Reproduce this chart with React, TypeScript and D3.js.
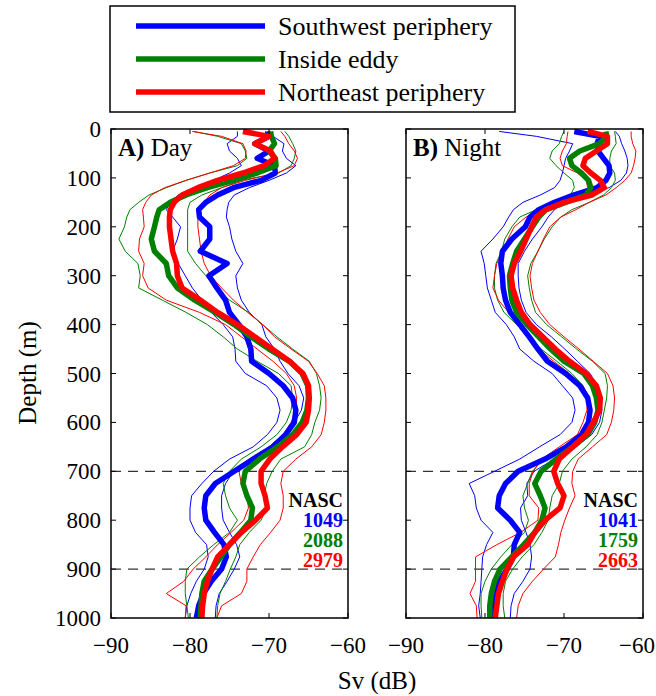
import React from "react";
import * as d3 from "d3";

const DEPTH = [5,15,30,45,60,75,90,105,120,135,150,165,180,200,225,250,275,300,325,350,375,400,425,450,475,500,525,550,575,600,625,650,675,700,725,750,775,800,825,850,875,900,925,950,975,1000];

// Panel A (Day)
const A_sw = [-70.2,-70.0,-71.8,-70.0,-71.5,-69.3,-69.2,-71.0,-74.5,-76.5,-78.0,-78.9,-78.8,-77.5,-77.5,-78.7,-75.3,-77.6,-76.6,-75.5,-75.0,-73.8,-72.8,-72.3,-72.2,-70.0,-68.2,-67.0,-66.6,-66.8,-67.9,-69.5,-72.0,-74.4,-76.8,-78.0,-78.2,-78.0,-76.9,-75.7,-75.4,-76.0,-77.3,-78.3,-78.9,-79.2];
const A_sw_lo = [-74.0,-74.0,-75.3,-75.0,-74.0,-73.5,-75.0,-77.0,-79.5,-81.5,-82.5,-83.0,-82.2,-81.2,-81.6,-82.2,-81.5,-80.6,-79.7,-78.5,-77.3,-75.8,-74.6,-74.3,-74.2,-73.0,-70.3,-69.0,-68.6,-69.0,-70.2,-72.0,-75.0,-77.0,-78.5,-79.8,-80.0,-80.0,-79.3,-77.9,-77.7,-78.2,-79.2,-79.9,-80.4,-80.6];
const A_sw_hi = [-70.5,-69.5,-68.1,-68.3,-67.8,-66.6,-67.8,-70.0,-72.5,-74.4,-75.1,-75.3,-75.4,-75.0,-74.7,-74.2,-73.3,-74.2,-74.0,-73.5,-72.5,-70.9,-70.4,-69.3,-68.6,-67.6,-66.2,-65.6,-65.9,-66.8,-68.2,-70.0,-72.1,-74.5,-75.5,-76.0,-76.0,-75.8,-75.0,-74.1,-73.7,-74.4,-75.3,-76.3,-76.7,-76.8];
const A_in = [-69.8,-69.7,-69.3,-70.0,-69.2,-69.1,-71.5,-74.5,-77.8,-80.5,-82.5,-83.9,-84.2,-84.5,-84.9,-84.5,-83.0,-82.7,-81.6,-79.4,-76.8,-74.4,-72.3,-70.0,-67.4,-65.8,-65.1,-65.0,-65.2,-65.8,-67.0,-68.9,-71.2,-73.0,-73.3,-72.8,-72.1,-72.3,-73.6,-75.0,-76.1,-77.2,-78.2,-78.5,-78.6,-78.7];
const A_in_lo = [-79.5,-76.5,-73.5,-73.0,-72.8,-74.0,-77.5,-80.5,-83.0,-85.2,-86.5,-87.6,-88.0,-88.3,-89.0,-88.2,-86.6,-86.3,-86.5,-83.5,-80.5,-77.8,-75.8,-74.0,-71.5,-68.8,-67.2,-67.0,-67.2,-67.8,-69.0,-71.0,-73.5,-75.0,-75.8,-75.5,-75.0,-74.0,-75.0,-77.0,-78.8,-80.4,-80.6,-80.6,-80.4,-80.2];
const A_in_hi = [-68.0,-67.5,-67.0,-66.6,-66.8,-67.2,-68.8,-73.5,-76.0,-78.5,-80.0,-80.3,-80.3,-80.3,-80.3,-80.3,-79.3,-78.0,-76.8,-75.0,-72.6,-70.8,-69.0,-67.0,-64.9,-64.0,-63.6,-63.4,-63.6,-64.2,-64.6,-65.5,-68.5,-69.6,-70.3,-70.6,-70.3,-71.0,-72.5,-73.7,-74.2,-74.9,-75.5,-76.2,-76.5,-76.6];
const A_ne = [-73.3,-70.0,-71.8,-69.8,-69.3,-70.6,-73.3,-76.5,-79.0,-81.0,-82.0,-82.5,-82.6,-82.6,-82.4,-82.2,-81.7,-81.6,-81.0,-78.7,-76.5,-74.0,-71.8,-69.6,-67.4,-65.7,-65.0,-64.9,-65.0,-65.3,-66.5,-68.3,-69.9,-71.0,-71.0,-70.5,-70.2,-71.7,-73.5,-75.0,-76.5,-77.2,-77.8,-78.2,-78.4,-78.5];
const A_ne_lo = [-79.7,-76.0,-73.3,-72.9,-73.0,-74.5,-77.5,-80.5,-83.2,-84.9,-85.6,-86.0,-85.9,-85.8,-86.4,-86.5,-85.8,-86.0,-85.3,-83.0,-78.8,-75.5,-73.5,-71.5,-69.5,-67.8,-66.8,-66.5,-66.6,-67.2,-68.2,-70.0,-72.5,-73.8,-73.5,-72.8,-72.6,-73.2,-74.8,-76.5,-78.0,-79.6,-80.8,-83.0,-80.5,-80.6];
const A_ne_hi = [-68.5,-68.0,-67.5,-66.8,-66.4,-66.8,-69.0,-73.0,-76.0,-77.5,-78.2,-78.8,-79.0,-79.0,-78.8,-78.6,-78.2,-77.4,-76.0,-74.5,-72.7,-70.8,-69.3,-67.2,-65.0,-63.9,-63.0,-62.8,-62.8,-63.0,-63.4,-64.6,-66.6,-68.2,-68.5,-68.2,-68.2,-68.6,-69.8,-71.1,-72.0,-72.8,-72.8,-73.5,-76.0,-76.6];

// Panel B (Night)
const B_sw = [-68.7,-65.5,-65.8,-65.7,-65.0,-64.3,-64.2,-64.7,-65.8,-68.8,-71.2,-73.2,-74.3,-74.9,-76.6,-77.8,-78.0,-77.8,-77.7,-77.4,-76.8,-75.6,-74.4,-73.3,-72.1,-69.8,-68.0,-67.0,-66.7,-66.9,-67.8,-69.7,-72.4,-75.8,-77.4,-78.2,-78.4,-76.8,-75.6,-76.3,-76.4,-77.2,-78.2,-78.8,-78.9,-78.9];
const B_sw_lo = [-78.2,-73.5,-68.9,-69.3,-69.8,-70.0,-70.2,-70.5,-71.2,-73.0,-75.2,-76.4,-77.0,-77.7,-79.0,-80.5,-80.1,-79.9,-79.7,-79.2,-78.7,-77.3,-76.3,-75.6,-73.8,-71.5,-70.2,-68.9,-68.6,-69.0,-70.5,-73.1,-75.6,-78.8,-82.0,-81.3,-81.1,-80.5,-79.0,-79.8,-80.3,-80.4,-80.5,-80.6,-80.8,-80.6];
const B_sw_hi = [-63.5,-63.0,-62.7,-62.3,-62.0,-61.9,-62.1,-62.8,-64.3,-67.5,-70.0,-71.2,-72.0,-72.8,-74.0,-75.0,-75.8,-75.8,-75.7,-75.4,-74.8,-73.5,-71.6,-69.9,-68.3,-66.7,-65.8,-65.3,-65.2,-65.5,-66.5,-68.5,-71.2,-73.8,-74.7,-74.6,-75.5,-75.4,-74.8,-74.3,-74.1,-74.3,-75.2,-76.3,-76.7,-76.8];
const B_in = [-64.7,-64.6,-65.5,-68.0,-69.3,-69.0,-67.8,-66.9,-66.6,-67.2,-69.8,-72.3,-73.2,-74.0,-75.0,-76.0,-76.5,-76.9,-76.8,-76.6,-76.0,-74.7,-73.2,-71.7,-70.0,-67.5,-66.4,-65.9,-65.7,-66.1,-67.0,-68.9,-71.0,-72.9,-73.7,-73.0,-72.4,-72.8,-73.7,-75.1,-76.6,-78.1,-78.8,-79.2,-79.4,-79.4];
const B_in_lo = [-70.0,-70.3,-70.6,-71.5,-71.8,-71.0,-70.0,-68.9,-68.7,-69.2,-70.8,-73.5,-75.6,-76.6,-77.5,-77.9,-78.6,-78.8,-78.8,-78.4,-77.6,-76.0,-74.4,-72.9,-70.9,-69.0,-67.6,-66.8,-66.6,-67.0,-67.9,-69.7,-72.6,-74.0,-74.6,-75.2,-75.0,-74.5,-75.0,-76.6,-78.0,-79.2,-80.0,-80.5,-80.5,-80.4];
const B_in_hi = [-63.6,-63.5,-63.4,-64.0,-64.2,-64.2,-63.6,-63.5,-64.0,-65.0,-66.8,-69.0,-70.4,-71.5,-72.5,-73.3,-74.2,-74.6,-74.4,-74.1,-73.6,-72.2,-70.3,-68.4,-66.4,-64.8,-64.5,-64.6,-64.9,-65.2,-65.8,-67.2,-69.0,-70.2,-70.6,-71.5,-71.8,-72.0,-72.8,-73.8,-75.3,-76.5,-77.4,-77.7,-77.7,-77.5];
const B_ne = [-67.0,-64.5,-64.5,-65.9,-67.3,-67.6,-66.6,-65.4,-64.9,-66.5,-70.0,-72.3,-73.5,-74.1,-74.8,-75.5,-76.3,-76.7,-76.5,-76.0,-75.4,-74.3,-72.7,-71.1,-69.3,-67.2,-65.9,-65.4,-65.5,-66.3,-67.2,-68.9,-70.6,-71.3,-70.8,-70.0,-70.5,-72.4,-73.7,-74.6,-76.4,-77.2,-77.8,-78.3,-78.5,-78.7];
const B_ne_lo = [-69.5,-69.6,-69.7,-70.2,-70.5,-70.2,-68.3,-67.2,-67.0,-67.5,-69.7,-72.8,-74.8,-76.3,-77.1,-77.7,-78.5,-78.8,-79.0,-78.3,-77.0,-75.8,-74.5,-73.2,-71.3,-69.3,-67.6,-67.0,-67.1,-67.6,-68.3,-70.6,-72.8,-73.9,-74.4,-74.4,-73.2,-73.3,-75.5,-78.5,-81.2,-81.2,-81.2,-81.9,-81.1,-81.0];
const B_ne_hi = [-61.5,-61.5,-61.3,-60.9,-61.0,-61.2,-61.5,-62.3,-63.4,-64.7,-66.8,-68.5,-70.4,-71.8,-72.6,-73.3,-74.0,-74.3,-74.1,-73.8,-73.0,-71.8,-70.0,-68.1,-66.3,-64.5,-63.8,-63.6,-63.7,-64.0,-64.6,-66.4,-68.2,-68.9,-69.0,-68.6,-69.3,-69.9,-70.4,-70.7,-71.1,-72.6,-74.0,-75.2,-75.8,-76.0];

const LEGEND = ["Southwest periphery", "Inside eddy", "Northeast periphery"];
const COLORS = ["#0000ff", "#008000", "#ff0000"];
const NASC_A = ["1049", "2088", "2979"];
const NASC_B = ["1041", "1759", "2663"];
const X_TICKS = [-90, -80, -70, -60];
const Y_TICKS = [0, 100, 200, 300, 400, 500, 600, 700, 800, 900, 1000];
const DASHED = [700, 900];

const FONT = "Liberation Serif";

const panels = [
  { x0: 111, title: "A)", sub: " Day", thin: [[A_sw_lo, A_sw_hi], [A_in_lo, A_in_hi], [A_ne_lo, A_ne_hi]], thick: [A_sw, A_in, A_ne], nasc: NASC_A, yLabels: true },
  { x0: 406, title: "B)", sub: " Night", thin: [[B_sw_lo, B_sw_hi], [B_in_lo, B_in_hi], [B_ne_lo, B_ne_hi]], thick: [B_sw, B_in, B_ne], nasc: NASC_B, yLabels: false },
];

const PW = 237;
const Y0 = 129;
const Y1 = 618;
const W = 656;

const minus = (v: number) => (v < 0 ? "\u2212" + Math.abs(v) : String(v));

function T(props: any) {
  const { size, weight, children, ...rest } = props;
  return (
    <text {...rest} style={{ fontFamily: FONT, fontSize: size + "px", fontWeight: weight || "normal" }}>
      {children}
    </text>
  );
}

function Panel({ p }: { p: any }) {
  const x = d3.scaleLinear().domain([-90, -60]).range([p.x0, p.x0 + PW]);
  const y = d3.scaleLinear().domain([0, 1000]).range([Y0, Y1]);
  const line = (vals: number[]) =>
    d3.line<number>().x((v) => x(v)).y((_, i) => y(DEPTH[i]))(vals) || "";
  return (
    <g>
      {DASHED.map((d) => (
        <line key={d} x1={p.x0} x2={p.x0 + PW} y1={y(d)} y2={y(d)} stroke="#000" strokeWidth={1} strokeDasharray="10,7" />
      ))}
      {p.thin.map((pair: number[][], ci: number) =>
        pair.map((vals, k) => (
          <path key={ci + "-" + k} d={line(vals)} fill="none" stroke={COLORS[ci]} strokeWidth={1} />
        ))
      )}
      {p.thick.map((vals: number[], ci: number) => (
        <path key={"t" + ci} d={line(vals)} fill="none" stroke={COLORS[ci]} strokeWidth={5.5} strokeLinejoin="round" />
      ))}
      <rect x={p.x0} y={Y0} width={PW} height={Y1 - Y0} fill="none" stroke="#000" strokeWidth={1.5} />
      {Y_TICKS.map((t) => (
        <g key={"yt" + t}>
          <line x1={p.x0} x2={p.x0 + 5} y1={y(t)} y2={y(t)} stroke="#000" />
          <line x1={p.x0 + PW - 5} x2={p.x0 + PW} y1={y(t)} y2={y(t)} stroke="#000" />
          {p.yLabels && (
            <T x={p.x0 - 10} y={y(t) + 8} textAnchor="end" size={23}>{t}</T>
          )}
        </g>
      ))}
      {X_TICKS.map((t) => {
        const cx = Math.min(x(t), W - 1 - 18);
        return (
          <g key={"xt" + t}>
            <line x1={x(t)} x2={x(t)} y1={Y0} y2={Y0 + 5} stroke="#000" />
            <line x1={x(t)} x2={x(t)} y1={Y1 - 5} y2={Y1} stroke="#000" />
            <T x={cx} y={653} textAnchor="middle" size={23}>{minus(t)}</T>
          </g>
        );
      })}
      <T x={p.x0 + 7} y={156} size={25}>
        <tspan fontWeight="bold">{p.title}</tspan>
        <tspan>{p.sub}</tspan>
      </T>
      <T x={p.x0 + PW - 5} y={507} textAnchor="end" size={20} weight="bold">NASC</T>
      {p.nasc.map((n: string, i: number) => (
        <T key={n} x={p.x0 + PW - 5} y={527 + i * 20} textAnchor="end" size={20} weight="bold" fill={COLORS[i]}>{n}</T>
      ))}
    </g>
  );
}

export default function App() {
  return (
    <div style={{ position: "absolute", left: 0, top: 0 }}>
      <svg width={W} height={696} style={{ display: "block", background: "#fff" }}>
        <rect x={110} y={6} width={405} height={106} fill="#fff" stroke="#000" strokeWidth={1.5} />
        {LEGEND.map((lab, i) => (
          <g key={lab}>
            <line x1={136} x2={265} y1={26 + i * 33} y2={26 + i * 33} stroke={COLORS[i]} strokeWidth={5.5} />
            <T x={278} y={35 + i * 33} size={26}>{lab}</T>
          </g>
        ))}
        {panels.map((p) => (
          <Panel key={p.title} p={p} />
        ))}
        <T transform="translate(36,373) rotate(-90)" textAnchor="middle" size={25}>Depth (m)</T>
        <T x={377} y={689} textAnchor="middle" size={25}>Sv (dB)</T>
      </svg>
    </div>
  );
}
